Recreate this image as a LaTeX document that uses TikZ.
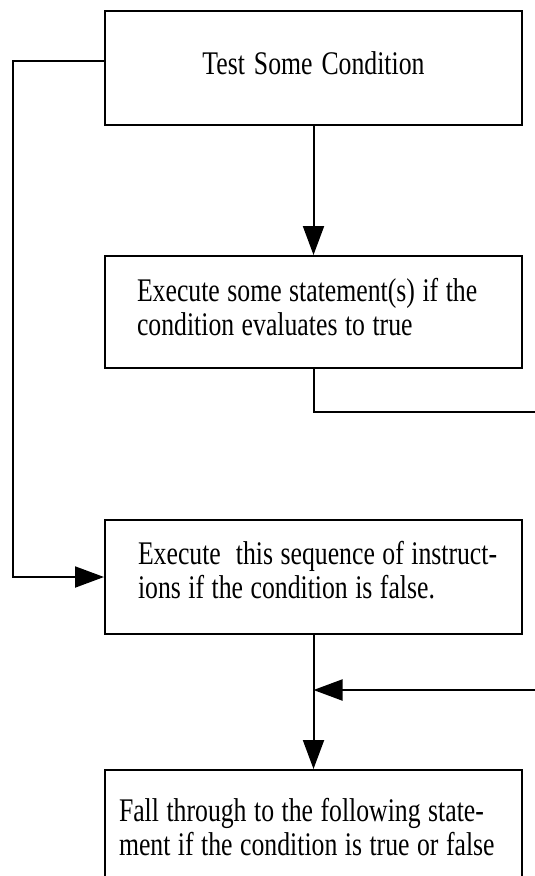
\documentclass[tikz,border=0pt]{standalone}
\usepackage{fontspec}
\setmainfont{Liberation Serif}[FakeStretch=0.78]
\usetikzlibrary{arrows.meta}

\begin{document}
\begin{tikzpicture}[x=1pt, y=-1pt, line width=2pt,
  >={Triangle[length=29pt,width=21pt]},
  box/.style={draw, rectangle, anchor=north west,
              minimum width=417pt, text width=417pt,
              inner xsep=0pt, inner ysep=0pt,
              font=\fontsize{33}{34}\selectfont,
              execute at begin node={\spaceskip=7.5pt plus 1pt minus 1pt\relax}},
  pad/.style={align=left,
              execute at begin node={\leftskip=#1\relax
                                     \rightskip=-40pt plus 1fil\relax}}]

  % Frame (page size of the original figure)
  \useasboundingbox (0,0) rectangle (535,876);
  \clip (0,0) rectangle (535,876);

  % Boxes
  \node[box, align=center, minimum height=114pt, text depth=10.5pt]
    (test) at (104,10) {Test Some Condition};
  \node[box, pad=32pt, minimum height=112pt, text depth=44.7pt]
    (true) at (104,255) {Execute some statement(s) if the\\
                         condition evaluates to true};
  \node[box, pad=33pt, minimum height=114pt, text depth=48.5pt]
    (false) at (104,519) {Execute~ this sequence of instruct-\\
                          ions if the condition is false.};
  \node[box, pad=14pt, minimum height=114pt]
    (fall) at (104,769) {Fall through to the following state-\\
                         ment if the condition is true or false};

  % Free ends of the lines
  \coordinate (lcorner) at (13,61);
  \coordinate (rtrue) at (535,412);
  \coordinate (rfall) at (535,690);

  % Condition true: straight down
  \draw[->] (test.south) -- (true.north);
  \draw (true.south) |- (rtrue);

  % Condition false: round the left side
  \draw[->] (lcorner -| test.west) -- (lcorner) |- (false.west);

  % Both paths join again
  \draw[->] (false.south) -- (fall.north);
  \draw[->] (rfall) -- (rfall -| false.south);

\end{tikzpicture}
\end{document}
